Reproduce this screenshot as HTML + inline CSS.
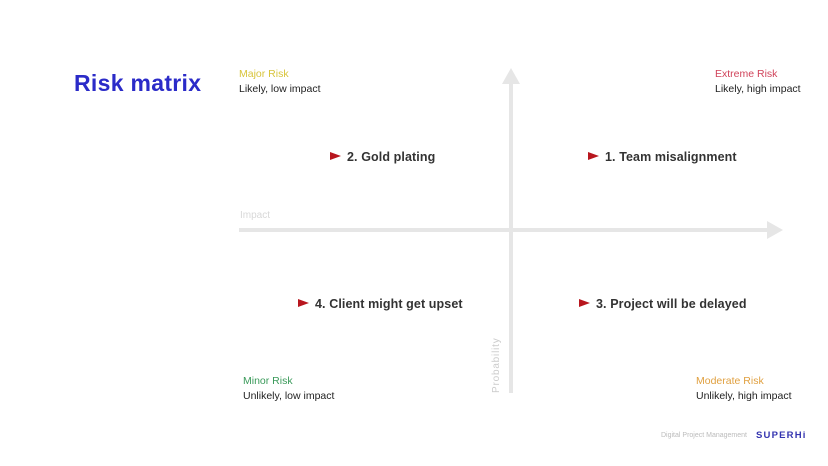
<!DOCTYPE html>
<html><head><meta charset="utf-8"><style>
body{margin:0;width:828px;height:466px;background:#fff;position:relative;overflow:hidden;font-family:"Liberation Sans",sans-serif}
.t{position:absolute;white-space:nowrap}
.s{font-size:10.5px;color:#222}
.b{font-size:12.5px;font-weight:bold;color:#333;letter-spacing:0.1px}
.f{display:inline-block;width:0;height:0;border-top:4px solid transparent;border-bottom:4px solid transparent;border-left:11px solid #b8161e;margin-right:6px;vertical-align:1px}
</style></head><body>
<div class="t" style="left:74px;top:70px;font-size:23px;font-weight:bold;color:#2b2bc8;letter-spacing:0.3px">Risk matrix</div>
<svg width="828" height="466" style="position:absolute;left:0;top:0">
<line x1="511" y1="82" x2="511" y2="393" stroke="#e6e6e6" stroke-width="4"/>
<polygon points="511,68 502,84 520,84" fill="#e6e6e6"/>
<line x1="239" y1="230" x2="768" y2="230" stroke="#e6e6e6" stroke-width="4"/>
<polygon points="783,230 767,221 767,239" fill="#e6e6e6"/>
<text x="499" y="393" transform="rotate(-90 499 393)" font-family="Liberation Sans" font-size="10" fill="#ccc" letter-spacing="0.8">Probability</text>
</svg>
<div class="t" style="left:240px;top:210px;font-size:10px;color:#d8d8d8">Impact</div>
<div class="t s" style="left:239px;top:68px;color:#d8c43a">Major Risk</div>
<div class="t s" style="left:239px;top:83px">Likely, low impact</div>
<div class="t s" style="left:715px;top:68px;color:#d0435a">Extreme Risk</div>
<div class="t s" style="left:715px;top:83px">Likely, high impact</div>
<div class="t s" style="left:243px;top:375px;color:#3a9a5a">Minor Risk</div>
<div class="t s" style="left:243px;top:390px">Unlikely, low impact</div>
<div class="t s" style="left:696px;top:375px;color:#e0a040">Moderate Risk</div>
<div class="t s" style="left:696px;top:390px">Unlikely, high impact</div>
<div class="t b" style="left:330px;top:150px"><span class="f"></span>2. Gold plating</div>
<div class="t b" style="left:588px;top:150px"><span class="f"></span>1. Team misalignment</div>
<div class="t b" style="left:298px;top:297px"><span class="f"></span>4. Client might get upset</div>
<div class="t b" style="left:579px;top:297px"><span class="f"></span>3. Project will be delayed</div>
<div class="t" style="left:661px;top:432px;font-size:7px;color:#bbb">Digital Project Management</div>
<div class="t" style="left:756px;top:430px;font-size:9.5px;font-weight:bold;color:#3535b0;letter-spacing:1.2px">SUPERHi</div>
</body></html>
